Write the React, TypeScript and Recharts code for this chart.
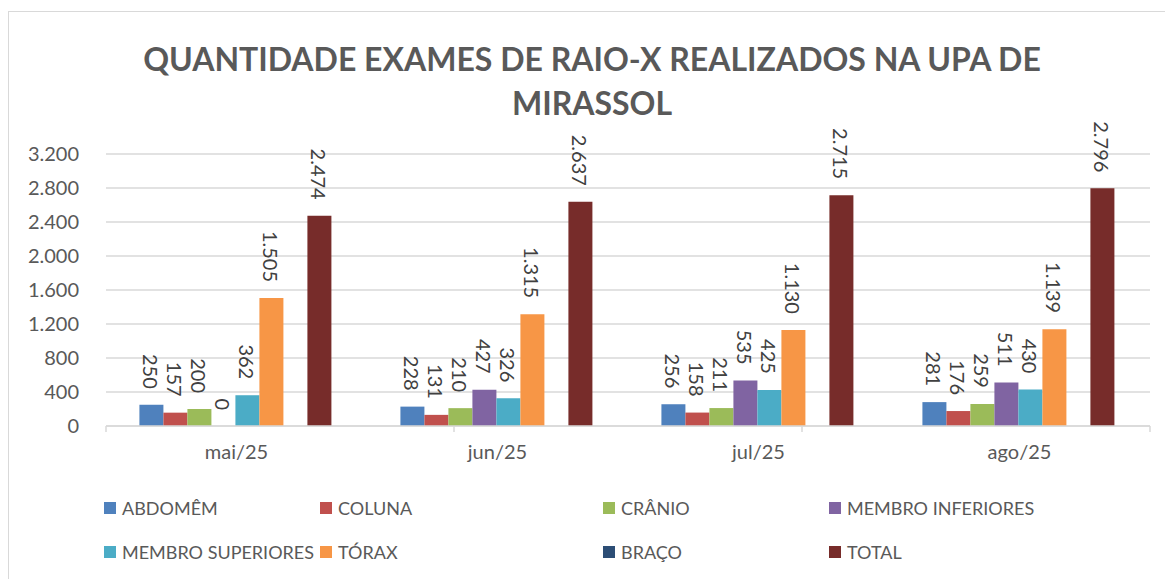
import React from 'react';
import { BarChart, Bar, XAxis, YAxis, CartesianGrid, LabelList } from 'recharts';

const months = ['mai/25', 'jun/25', 'jul/25', 'ago/25'];
const abdomem = [250, 228, 256, 281];
const coluna = [157, 131, 158, 176];
const cranio = [200, 210, 211, 259];
const membroInf = [0, 427, 535, 511];
const membroSup = [362, 326, 425, 430];
const torax = [1505, 1315, 1130, 1139];
const braco: (number | null)[] = [null, null, null, null];
const total = [2474, 2637, 2715, 2796];
const yTicks = [0, 400, 800, 1200, 1600, 2000, 2400, 2800, 3200];

const series = [
  { key: 'abdomem', name: 'ABDOMÊM', color: '#4f81bd', values: abdomem },
  { key: 'coluna', name: 'COLUNA', color: '#c0504d', values: coluna },
  { key: 'cranio', name: 'CRÂNIO', color: '#9bbb59', values: cranio },
  { key: 'membroInf', name: 'MEMBRO INFERIORES', color: '#8064a2', values: membroInf },
  { key: 'membroSup', name: 'MEMBRO SUPERIORES', color: '#4bacc6', values: membroSup },
  { key: 'torax', name: 'TÓRAX', color: '#f79646', values: torax },
  { key: 'braco', name: 'BRAÇO', color: '#2c4d75', values: braco },
  { key: 'total', name: 'TOTAL', color: '#772c2a', values: total },
];

const data = months.map((m, i) => {
  const row: Record<string, string | number | null> = { month: m };
  series.forEach((s) => (row[s.key] = s.values[i]));
  return row;
});

const FONT = 'Lato, "Open Sans", sans-serif';
const fmt = (v: number) => v.toLocaleString('de-DE');

const RotatedLabel = (props: any) => {
  const { x, y, width, value } = props;
  if (value === null || value === undefined) return null;
  const cx = x + width / 2;
  const ty = y - 16;
  return (
    <text
      x={cx}
      y={ty}
      transform={`rotate(90, ${cx}, ${ty})`}
      textAnchor="end"
      dominantBaseline="central"
      fill="#404040"
      fontSize={20}
      fontFamily={FONT}
    >
      {fmt(value)}
    </text>
  );
};

// legend columns as laid out in the original
const legendCols = [95, 311, 594, 820];
const legendRows = [496, 540];

const App: React.FC = () => {
  return (
    <div
      style={{
        position: 'relative',
        marginTop: 3,
        width: 1165,
        height: 568,
        overflow: 'hidden',
        borderTop: '1px solid #d9d9d9',
        borderLeft: '1px solid #d9d9d9',
        boxSizing: 'border-box',
        fontFamily: FONT,
        background: '#fff',
      }}
    >
      <div
        style={{
          position: 'absolute',
          left: 0,
          width: 1166,
          top: 25,
          textAlign: 'center',
          color: '#595959',
          fontWeight: 700,
          fontSize: 32,
          lineHeight: '44px',
        }}
      >
        QUANTIDADE EXAMES DE RAIO-X REALIZADOS NA UPA DE
        <br />
        MIRASSOL
      </div>
      <BarChart
        width={1165}
        height={568}
        data={data}
        margin={{ top: 143, right: 23, left: 38, bottom: 122 }}
        barCategoryGap="12.8%"
        barGap={0}
        style={{ position: 'absolute', left: -1, top: -1 }}
      >
        <CartesianGrid xAxisId="b" vertical={false} stroke="#d9d9d9" strokeWidth={1.5} />
        {/* boundary ticks between months, like Excel */}
        <XAxis
          xAxisId="a"
          type="number"
          domain={[0, 4]}
          ticks={[0, 1, 2, 3, 4]}
          height={1}
          stroke="#d9d9d9"
          strokeWidth={1.5}
          tickSize={6}
          tickFormatter={() => ''}
          allowDataOverflow
        />
        <XAxis
          xAxisId="b"
          dataKey="month"
          height={30}
          axisLine={false}
          tickLine={false}
          tickSize={0}
          tickMargin={18}
          tick={{ fill: '#595959', fontSize: 20, fontFamily: FONT }}
        />
        <YAxis
          width={60}
          domain={[0, 3200]}
          ticks={yTicks}
          axisLine={false}
          tickLine={false}
          tickSize={0}
          tickMargin={27}
          tickFormatter={fmt}
          tick={{ fill: '#595959', fontSize: 20, fontFamily: FONT }}
        />
        {series.map((s) => (
          <Bar
            key={s.key}
            xAxisId="b"
            dataKey={s.key}
            name={s.name}
            fill={s.color}
            minPointSize={0.01}
            isAnimationActive={false}
          >
            <LabelList dataKey={s.key} content={RotatedLabel} />
          </Bar>
        ))}
      </BarChart>
      {series.map((s, i) => (
        <div
          key={s.key}
          style={{
            position: 'absolute',
            left: legendCols[i % 4],
            top: legendRows[Math.floor(i / 4)] - 13,
            height: 26,
            display: 'flex',
            alignItems: 'center',
            color: '#595959',
            fontSize: 18,
            whiteSpace: 'nowrap',
          }}
        >
          <span style={{ display: 'inline-block', width: 12, height: 12, background: s.color, marginRight: 6 }} />
          {s.name}
        </div>
      ))}
    </div>
  );
};

export default App;
